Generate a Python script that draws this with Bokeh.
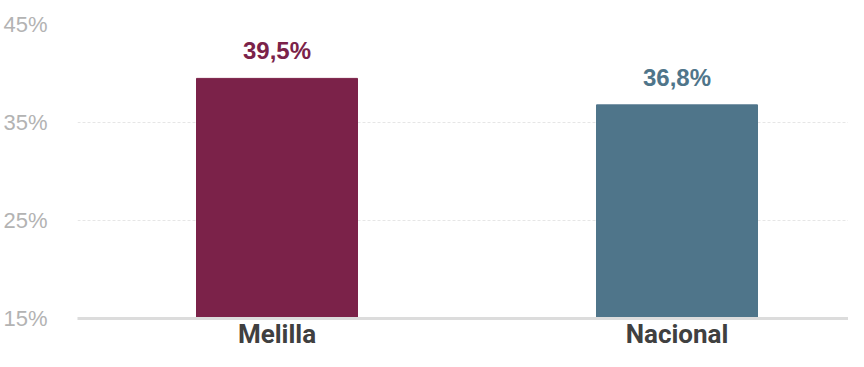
from bokeh.plotting import figure
from bokeh.models import ColumnDataSource, LabelSet, Range1d, FixedTicker
from bokeh.core.properties import value
from bokeh.embed import file_html
from bokeh.resources import INLINE

categories = ["Melilla", "Nacional"]
values = [39.5, 36.8]
value_labels = ["39,5%", "36,8%"]
colors = ["#7B2249", "#4F758A"]
y_ticks = [15, 25, 35, 45]

xs = list(range(len(categories)))
src = ColumnDataSource(dict(x=xs, top=values, lab=value_labels, color=colors))

p = figure(width=848, height=351, output_backend="svg", toolbar_location=None,
           x_range=Range1d(-0.49875, 1.42875), y_range=Range1d(15, 45),
           min_border_left=77, min_border_right=0, min_border_top=24, min_border_bottom=31)
p.outline_line_color = None
p.background_fill_color = "white"
p.border_fill_color = "white"

p.vbar(x="x", top="top", bottom=15, width=0.4025, color="color", source=src)

labels = LabelSet(x="x", y="top", text="lab", source=src, text_align="center",
                  text_baseline="alphabetic", y_offset=19,
                  text_font=value("Liberation Sans"), text_font_size="24px",
                  text_font_style="bold", text_color="color")
p.add_layout(labels)

p.yaxis.ticker = FixedTicker(ticks=y_ticks)
p.yaxis.major_label_overrides = {t: f"{t}%" for t in y_ticks}
p.yaxis.axis_line_color = None
p.yaxis.major_tick_line_color = None
p.yaxis.minor_tick_line_color = None
p.yaxis.major_label_text_font = "Liberation Sans"
p.yaxis.major_label_text_font_size = "22px"
p.yaxis.major_label_text_color = "#b3b3b3"
p.yaxis.major_label_standoff = 24

p.ygrid.grid_line_color = "#e6e6e6"
p.ygrid.grid_line_dash = "3 2"
p.ygrid.grid_line_width = 1
p.xgrid.grid_line_color = None

p.xaxis.ticker = FixedTicker(ticks=xs)
p.xaxis.major_label_overrides = {i: c for i, c in zip(xs, categories)}
p.xaxis.axis_line_color = "#dcdcdc"
p.xaxis.axis_line_width = 3
p.xaxis.major_tick_line_color = None
p.xaxis.minor_tick_line_color = None
p.xaxis.major_tick_out = 0
p.xaxis.major_label_text_font = "Roboto"
p.xaxis.major_label_text_font_style = "bold"
p.xaxis.major_label_text_font_size = "26px"
p.xaxis.major_label_text_color = "#404040"
p.xaxis.major_label_standoff = 0

open("out.html", "w").write(file_html(p, INLINE))
